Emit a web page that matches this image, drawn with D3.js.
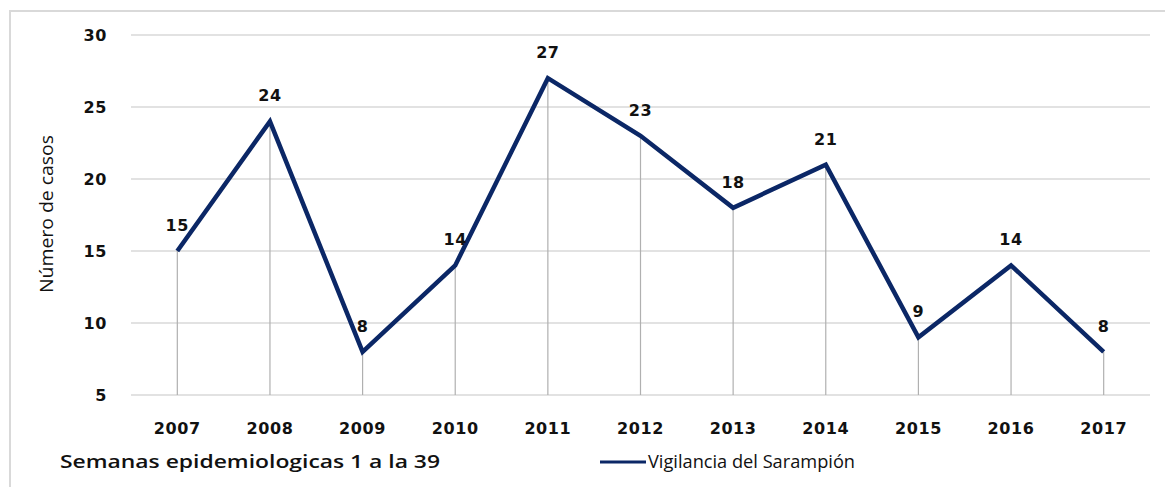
<!DOCTYPE html>
<html>
<head>
	<meta charset="utf-8">
	<script src="https://cdn.jsdelivr.net/npm/d3@7"></script>
	<style>
		body { margin: 0; background: white; }
	</style>
</head>
<body>
	<script>

		// years (categories) and cases per year
		var years  = ["2007", "2008", "2009", "2010", "2011", "2012", "2013", "2014", "2015", "2016", "2017"];
		var cases  = [15, 24, 8, 14, 27, 23, 18, 21, 9, 14, 8];
		var yTicks = [5, 10, 15, 20, 25, 30];

		var seriesName = "Vigilancia del Sarampión";
		var yTitle     = "Número de casos";
		var xNote      = "Semanas epidemiologicas 1 a la 39";

		var width  = 1165;
		var height = 487;

		var line_color = "#0b2766";
		var grid_color = "#d9d9d9";
		var num_font   = "'DejaVu Sans', Verdana, sans-serif";
		var txt_font   = "'Open Sans', 'Noto Sans', sans-serif";

		var svg = d3.select("body").append("svg")
			.attr("width", width)
			.attr("height", height);

		// outer frame (only top and left edges are visible)
		svg.append("path")
			.attr("d", "M10," + height + "V11H" + width)
			.attr("fill", "none")
			.attr("stroke", grid_color)
			.attr("stroke-width", 2);

		var x = d3.scaleBand()
			.domain(years)
			.range([131, 1150]);

		var y = d3.scaleLinear()
			.domain([5, 30])
			.range([395, 35]);

		var data = years.map(function(d, i) { return {year: d, value: cases[i]}; });

		// horizontal gridlines
		svg.append("g")
			.selectAll("line")
			.data(yTicks)
			.join("line")
			.attr("x1", x.range()[0])
			.attr("x2", x.range()[1])
			.attr("y1", function(d) { return y(d); })
			.attr("y2", function(d) { return y(d); })
			.attr("stroke", grid_color)
			.attr("stroke-width", 1.3);

		// y tick labels
		svg.append("g")
			.selectAll("text")
			.data(yTicks)
			.join("text")
			.attr("x", 107)
			.attr("y", function(d) { return y(d); })
			.attr("dy", "0.36em")
			.attr("text-anchor", "end")
			.attr("font-family", num_font)
			.attr("font-weight", "bold")
			.attr("font-size", 16)
			.attr("letter-spacing", 0.6)
			.attr("fill", "#111")
			.text(function(d) { return d; });

		// x tick labels
		svg.append("g")
			.selectAll("text")
			.data(years)
			.join("text")
			.attr("x", function(d) { return x(d) + x.bandwidth() / 2; })
			.attr("y", 434)
			.attr("text-anchor", "middle")
			.attr("font-family", num_font)
			.attr("font-weight", "bold")
			.attr("font-size", 16)
			.attr("letter-spacing", 0.6)
			.attr("fill", "#111")
			.text(function(d) { return d; });

		// drop lines from each point down to the baseline
		svg.append("g")
			.selectAll("line")
			.data(data)
			.join("line")
			.attr("x1", function(d) { return x(d.year) + x.bandwidth() / 2; })
			.attr("x2", function(d) { return x(d.year) + x.bandwidth() / 2; })
			.attr("y1", function(d) { return y(d.value); })
			.attr("y2", y(5))
			.attr("stroke", "#b0b0b0")
			.attr("stroke-width", 1.2);

		var line = d3.line()
			.x(function(d) { return x(d.year) + x.bandwidth() / 2; })
			.y(function(d) { return y(d.value); });

		svg.append("path")
			.datum(data)
			.attr("d", line)
			.attr("fill", "none")
			.attr("stroke", line_color)
			.attr("stroke-width", 4.5)
			.attr("stroke-linejoin", "miter");

		// value labels above points
		svg.append("g")
			.selectAll("text")
			.data(data)
			.join("text")
			.attr("x", function(d) { return x(d.year) + x.bandwidth() / 2; })
			.attr("y", function(d) { return y(d.value) - 20; })
			.attr("text-anchor", "middle")
			.attr("font-family", num_font)
			.attr("font-weight", "bold")
			.attr("font-size", 16)
			.attr("letter-spacing", 0.6)
			.attr("fill", "#111")
			.text(function(d) { return d.value; });

		// y axis title
		svg.append("text")
			.attr("transform", "translate(53,214) rotate(-90)")
			.attr("text-anchor", "middle")
			.attr("font-family", txt_font)
			.attr("font-size", 18.5)
			.attr("fill", "#111")
			.attr("textLength", 158)
			.attr("lengthAdjust", "spacingAndGlyphs")
			.text(yTitle);

		// note under the axis
		svg.append("text")
			.attr("x", 60)
			.attr("y", 468)
			.attr("font-family", txt_font)
			.attr("font-weight", 600)
			.attr("font-size", 18)
			.attr("fill", "#111")
			.attr("textLength", 380)
			.attr("lengthAdjust", "spacingAndGlyphs")
			.text(xNote);

		// legend
		svg.append("line")
			.attr("x1", 600)
			.attr("x2", 646)
			.attr("y1", 462)
			.attr("y2", 462)
			.attr("stroke", line_color)
			.attr("stroke-width", 3);

		svg.append("text")
			.attr("x", 648)
			.attr("y", 468)
			.attr("font-family", txt_font)
			.attr("font-size", 18)
			.attr("fill", "#111")
			.attr("textLength", 207)
			.attr("lengthAdjust", "spacingAndGlyphs")
			.text(seriesName);

	</script>
</body>
</html>
